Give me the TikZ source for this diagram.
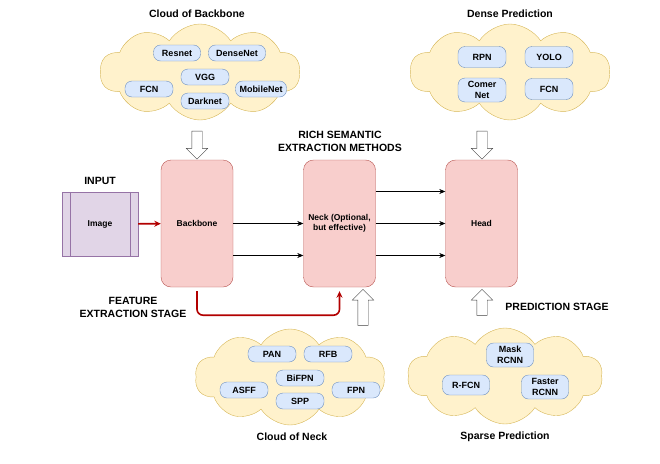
\documentclass[tikz,border=0pt]{standalone}
\usepackage{fontspec}
\setmainfont{Liberation Sans}
\usetikzlibrary{shapes,shapes.symbols,shapes.arrows,arrows.meta,positioning,calc}

\definecolor{cloudfill}{HTML}{FFF2CC}
\definecolor{clouddraw}{HTML}{D6B656}
\definecolor{pillfill}{HTML}{DAE8FC}
\definecolor{pilldraw}{HTML}{6C8EBF}
\definecolor{stagefill}{HTML}{F8CECC}
\definecolor{stagedraw}{HTML}{B85450}
\definecolor{imgfill}{HTML}{E1D5E7}
\definecolor{imgdraw}{HTML}{9673A6}
\definecolor{darkred}{HTML}{B20000}

\begin{document}
\begin{tikzpicture}[x=1pt,y=-1pt,
    font=\bfseries\fontsize{8.5}{10.5}\selectfont,
    title/.style={font=\bfseries\fontsize{10.5}{13}\selectfont, align=center},
    pill/.style={draw=pilldraw, fill=pillfill, rounded corners=7pt, minimum width=48pt,
        minimum height=16pt, inner sep=1pt, align=center,
        font=\bfseries\fontsize{9}{11}\selectfont},
    tallpill/.style={pill, minimum height=24pt},
    blob/.style={cloud, cloud puffs=10, cloud puff arc=115, cloud ignores aspect,
        draw=clouddraw, fill=cloudfill, minimum width=200pt, minimum height=96pt},
    stage/.style={draw=stagedraw, fill=stagefill, rounded corners=10pt,
        minimum width=72pt, minimum height=127pt, align=center},
    hollow/.style={single arrow, draw=black!75, fill=white, inner xsep=0pt, inner ysep=5pt,
        single arrow head extend=5.5pt, minimum height=28pt},
    flow/.style={-{Stealth[length=6pt,width=5pt]}, line width=0.6pt},
    redflow/.style={-{Stealth[length=6.5pt,width=6pt]}, darkred, line width=1.6pt}]
    \useasboundingbox (0,0) rectangle (660,463);

    % clouds
    \node[blob] (bbcloud) at (200,72) {};
    \node[blob] (densecloud) at (510,72) {};
    \node[blob, minimum width=190pt] (neckcloud) at (290,377) {};
    \node[blob, minimum width=195pt] (sparsecloud) at (505,376) {};

    \node[title] (bbtitle) at (197,14) {Cloud of Backbone};
    \node[title] (densetitle) at (510,14) {Dense Prediction};
    \node[title] (necktitle) at (292,437) {Cloud of Neck};
    \node[title] (sparsetitle) at (505,437) {Sparse Prediction};

    % backbone choices
    \node[pill, minimum width=47pt] (resnet) at (177,53) {Resnet};
    \node[pill, minimum width=57pt] (densenet) at (237,53) {DenseNet};
    \node[pill] (vgg) at (205,77) {VGG};
    \node[pill] (bbfcn) at (149,89) {FCN};
    \node[pill, minimum width=51pt] (mobilenet) at (261,89) {MobileNet};
    \node[pill] (darknet) at (205,101) {Darknet};

    % dense prediction choices
    \node[pill, minimum height=21pt] (rpn) at (482,57) {RPN};
    \node[pill, minimum height=21pt] (yolo) at (549,57) {YOLO};
    \node[tallpill] (comer) at (482,90) {Comer\\Net};
    \node[pill, minimum height=21pt] (densefcn) at (549,89) {FCN};

    % neck choices
    \node[pill] (pan) at (272,354) {PAN};
    \node[pill] (rfb) at (328,354) {RFB};
    \node[pill] (bifpn) at (300,378) {BiFPN};
    \node[pill] (asff) at (244,390) {ASFF};
    \node[pill] (fpn) at (356,390) {FPN};
    \node[pill] (spp) at (300,401) {SPP};

    % sparse prediction choices
    \node[tallpill, minimum width=47pt] (mask) at (510,355) {Mask\\RCNN};
    \node[pill, minimum width=47pt, minimum height=20pt] (rfcn) at (466,385) {R-FCN};
    \node[tallpill, minimum width=47pt] (faster) at (545,387) {Faster\\RCNN};

    % main pipeline
    \node[title] (inputlbl) at (100,181) {INPUT};
    \node[draw=imgdraw, fill=imgfill, minimum width=76pt, minimum height=64pt] (img) at (100,224) {Image};
    \draw[imgdraw] ([xshift=8.5pt]img.north west) -- ([xshift=8.5pt]img.south west);
    \draw[imgdraw] ([xshift=-8.5pt]img.north east) -- ([xshift=-8.5pt]img.south east);

    \node[stage] (backbone) at (197,223.5) {Backbone};
    \node[stage] (neck) at (339.5,223.5) {Neck (Optional,\\but effective)};
    \node[stage] (head) at (481.5,223.5) {Head};

    \node[title] (richlbl) at (340,141) {RICH SEMANTIC\\EXTRACTION METHODS};
    \node[title] (featlbl) at (133,307) {FEATURE\\EXTRACTION STAGE};
    \node[title] (predlbl) at (557,307) {PREDICTION STAGE};

    % connectors
    \draw[redflow] (img) -- (backbone);
    \draw[flow] (backbone.east) -- (neck.west);
    \draw[flow] ([yshift=-32pt]backbone.east) -- ([yshift=-32pt]neck.west);
    \draw[flow] ([yshift=32pt]neck.east) -- ([yshift=32pt]head.west);
    \draw[flow] (neck.east) -- (head.west);
    \draw[flow] ([yshift=-32pt]neck.east) -- ([yshift=-32pt]head.west);
    \draw[redflow, rounded corners=6pt] ([yshift=-4pt]backbone.south) -- ++(0,24)
        -| ([yshift=-4pt]neck.south);

    % hollow arrows from the clouds
    \node[hollow, rotate=-90] (bbin) at (197,142.5) {};
    \node[hollow, rotate=-90] (densein) at (482,142.5) {};
    \node[hollow, rotate=90, minimum height=36pt] (neckin) at (363,310) {};
    \node[hollow, rotate=90, minimum height=26pt] (sparsein) at (482,305) {};
\end{tikzpicture}
\end{document}
